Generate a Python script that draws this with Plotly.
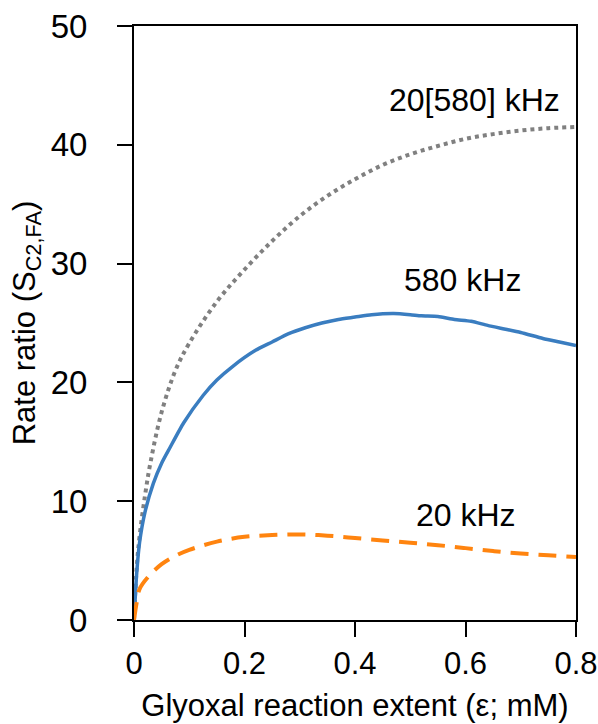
import plotly.graph_objects as go

# Data
x_gray = [0, 0.005, 0.01, 0.02, 0.03, 0.05, 0.075, 0.1, 0.15, 0.2, 0.25, 0.3, 0.35, 0.4,
          0.45, 0.5, 0.55, 0.6, 0.65, 0.7, 0.75, 0.8]
y_gray = [0, 4.5, 7.0, 10.5, 13.3, 17.5, 21.0, 23.3, 26.8, 29.5, 31.9, 34.0, 35.7, 37.1,
          38.3, 39.2, 39.9, 40.5, 40.9, 41.2, 41.4, 41.5]

x_blue = [0, 0.005, 0.01, 0.02, 0.035, 0.05, 0.065, 0.09, 0.125, 0.15, 0.18, 0.22, 0.25,
          0.28, 0.31, 0.34, 0.37, 0.4, 0.43, 0.47, 0.5, 0.52, 0.55, 0.58, 0.61, 0.64,
          0.67, 0.7, 0.74, 0.77, 0.8]
y_blue = [0, 4.0, 6.5, 9.1, 11.5, 13.2, 14.5, 16.6, 18.9, 20.2, 21.4, 22.7, 23.4,
          24.1, 24.6, 25.0, 25.3, 25.5, 25.7, 25.8, 25.7, 25.6, 25.55, 25.3, 25.15, 24.8,
          24.5, 24.2, 23.7, 23.4, 23.1]

x_orange = [0, 0.005, 0.01, 0.025, 0.05, 0.075, 0.1, 0.15, 0.2, 0.25, 0.3, 0.35, 0.4,
            0.45, 0.5, 0.55, 0.6, 0.65, 0.7, 0.75, 0.8]
y_orange = [0, 1.5, 2.6, 3.6, 4.7, 5.4, 5.9, 6.6, 7.0, 7.15, 7.2, 7.1, 6.9,
            6.7, 6.5, 6.3, 6.05, 5.8, 5.6, 5.45, 5.3]

x_ticks = [0, 0.2, 0.4, 0.6, 0.8]
x_tick_labels = ["0", "0.2", "0.4", "0.6", "0.8"]
y_ticks = [0, 10, 20, 30, 40, 50]
y_tick_labels = ["0", "10", "20", "30", "40", "50"]

series_labels = ["20[580] kHz", "580 kHz", "20 kHz"]

FONT = "Liberation Sans, Arial, Helvetica, sans-serif"

fig = go.Figure()
fig.add_trace(go.Scatter(x=x_gray, y=y_gray, mode="lines", line_shape="spline",
                         line=dict(color="#808080", width=4, dash="4px,4px"),
                         name=series_labels[0], showlegend=False))
fig.add_trace(go.Scatter(x=x_blue, y=y_blue, mode="lines", line_shape="spline",
                         line=dict(color="#3a7dc0", width=3.5, smoothing=0.6),
                         name=series_labels[1], showlegend=False))
fig.add_trace(go.Scatter(x=x_orange, y=y_orange, mode="lines", line_shape="spline",
                         line=dict(color="#ff840f", width=4, dash="18px,10px"),
                         name=series_labels[2], showlegend=False))

ann_font = dict(family=FONT, size=32, color="black")
fig.add_annotation(x=0.617, y=43.8, text=series_labels[0], showarrow=False, font=ann_font)
fig.add_annotation(x=0.594, y=28.6, text=series_labels[1], showarrow=False, font=ann_font)
fig.add_annotation(x=0.601, y=8.8, text=series_labels[2], showarrow=False, font=ann_font)

fig.update_layout(
    width=598, height=724,
    margin=dict(l=134, r=22, t=26, b=104, autoexpand=False),
    paper_bgcolor="white", plot_bgcolor="white",
    font=dict(family=FONT, size=32, color="black"),
    xaxis=dict(range=[0, 0.8], tickvals=x_ticks, ticktext=x_tick_labels, automargin=False,
               showgrid=False, zeroline=False, showline=True, linecolor="black",
               linewidth=2, mirror=True, ticks="outside", ticklen=15, tickwidth=2,
               tickcolor="black", tickfont=dict(size=31), ticklabeloverflow="allow",
               title=dict(text="Glyoxal reaction extent (ε; mM)", font=dict(size=31), standoff=14)),
    yaxis=dict(range=[0, 50], tickvals=y_ticks, ticktext=y_tick_labels, automargin=False,
               showgrid=False, zeroline=False, showline=True, linecolor="black",
               linewidth=2, mirror=True, ticks="outside", ticklen=15, tickwidth=2,
               tickcolor="black", tickfont=dict(size=33), ticklabelstandoff=23,
               ticklabeloverflow="allow",
               title=dict(text="Rate ratio (S<sub>C2,FA</sub>)", font=dict(size=31), standoff=6)),
)

fig.write_html("out.html", config={"displayModeBar": False},
               post_script="document.body.style.margin='0px';document.body.style.overflow='hidden';")
